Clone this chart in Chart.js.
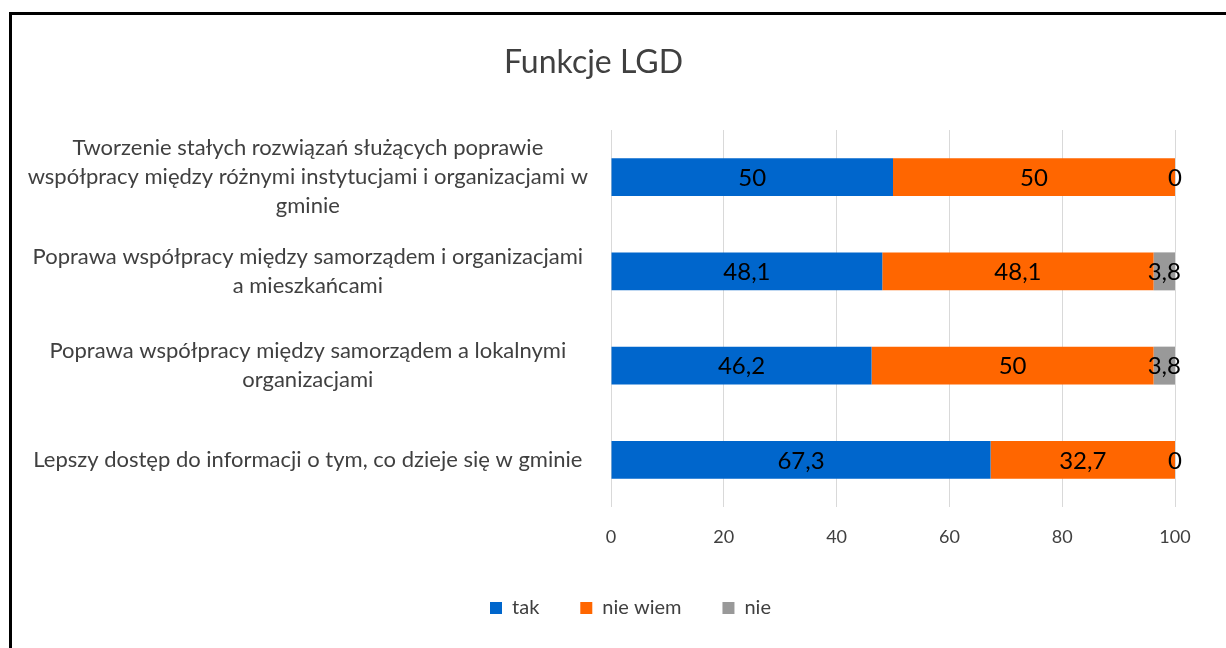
<!DOCTYPE html>
<html lang="pl">
<head>
<meta charset="utf-8">
<title>Funkcje LGD</title>
<script src="https://cdn.jsdelivr.net/npm/chart.js@4/dist/chart.umd.min.js"></script>
<style>
body { margin: 0; background: #fff; overflow: hidden; }
#wrap { position: relative; width: 1226px; height: 648px; }
#ramka { position: absolute; left: 9px; top: 12px; width: 1300px; height: 700px; border-left: 3px solid #000; border-top: 3px solid #000; pointer-events: none; }
</style>
</head>
<body>
<div id="wrap">
  <canvas id="chart" width="1226" height="648"></canvas>
  <div id="ramka"></div>
</div>
<script>
// Kategorie (podpisy osi Y, z podziałem na wiersze)
const kategorie = [
  ["Tworzenie stałych rozwiązań służących poprawie", "współpracy między różnymi instytucjami i organizacjami w", "gminie"],
  ["Poprawa współpracy między samorządem i organizacjami", "a mieszkańcami"],
  ["Poprawa współpracy między samorządem a lokalnymi", "organizacjami"],
  "Lepszy dostęp do informacji o tym, co dzieje się w gminie"
];

// Wartości serii
const tak = [50, 48.1, 46.2, 67.3];
const nieWiem = [50, 48.1, 50, 32.7];
const nie = [0, 3.8, 3.8, 0];

// Podziałka osi X
const osX = [0, 20, 40, 60, 80, 100];

Chart.defaults.font.family = 'Lato';

// Etykiety danych na środku każdego odcinka
const etykiety = {
  id: 'etykiety',
  afterDatasetsDraw(chart) {
    const ctx = chart.ctx;
    ctx.save();
    ctx.font = '24px Lato';
    ctx.fillStyle = '#000';
    ctx.textAlign = 'center';
    ctx.textBaseline = 'middle';
    chart.data.datasets.forEach((ds, i) => {
      chart.getDatasetMeta(i).data.forEach((bar, j) => {
        const x = (bar.x + bar.base) / 2;
        ctx.fillText(String(ds.data[j]).replace('.', ','), x, bar.y + 1);
      });
    });
    ctx.restore();
  }
};

// Legenda w oryginale jest trochę w prawo
const przesunLegende = {
  id: 'przesunLegende',
  afterLayout(chart) {
    chart.legend.left += 37;
    chart.legend.right += 37;
  }
};

new Chart(document.getElementById('chart'), {
  type: 'bar',
  data: {
    labels: kategorie,
    datasets: [
      { label: 'tak', data: tak, backgroundColor: '#0066CC' },
      { label: 'nie wiem', data: nieWiem, backgroundColor: '#FF6600' },
      { label: 'nie', data: nie, backgroundColor: '#999999' }
    ]
  },
  options: {
    indexAxis: 'y',
    responsive: false,
    animation: false,
    devicePixelRatio: 1,
    layout: { padding: { left: 12, right: 51, top: 0, bottom: 20 } },
    datasets: { bar: { categoryPercentage: 1, barPercentage: 0.403, borderWidth: 0 } },
    scales: {
      x: {
        stacked: true,
        min: 0,
        max: 100,
        grid: { color: '#D9D9D9', drawTicks: false },
        border: { display: false },
        ticks: { padding: 19, color: '#404040', font: { size: 18 } },
        afterBuildTicks(s) { s.ticks = osX.map(v => ({ value: v })); },
        afterFit(s) { s.height = 50; }
      },
      y: {
        stacked: true,
        grid: { display: false, drawTicks: false },
        border: { display: false },
        ticks: { crossAlign: 'center', padding: 23, color: '#404040', font: { size: 22, lineHeight: 1.33 } },
        afterFit(s) { s.width = 599; }
      }
    },
    plugins: {
      title: {
        display: true,
        text: 'Funkcje LGD',
        color: '#404040',
        font: { size: 32, weight: 'normal' },
        padding: { top: 43, bottom: 48.6 }
      },
      legend: {
        position: 'bottom',
        labels: { boxWidth: 12, boxHeight: 12, padding: 41, color: '#404040', font: { size: 20 } }
      },
      tooltip: { enabled: false }
    }
  },
  plugins: [etykiety, przesunLegende]
});
</script>
</body>
</html>
